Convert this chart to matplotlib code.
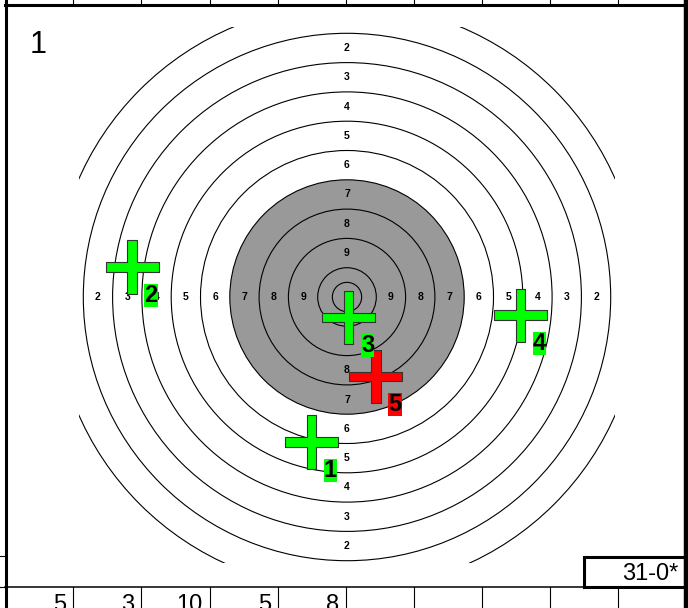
"""Scorecard for one five-shot series drawn on a 50 m pistol target."""

from __future__ import annotations

import matplotlib
matplotlib.use("Agg")
import matplotlib.pyplot as plt
from matplotlib.patches import Circle, Rectangle
from matplotlib.path import Path

plt.rcParams["font.family"] = ["Liberation Sans", "DejaVu Sans"]
NARROW = ["Liberation Sans Narrow", "Liberation Sans", "DejaVu Sans"]

# --- target geometry (mm) ---
RING_SCORES = [1, 2, 3, 4, 5, 6, 7, 8, 9, 10]
RING_RADII_MM = [250, 225, 200, 175, 150, 125, 100, 75, 50, 25]
INNER_TEN_MM = 12.5
BLACK_RADIUS_MM = 100
LABELLED_RINGS = [2, 3, 4, 5, 6, 7, 8, 9]

# --- the series ---
SERIES_NAME = "1"
SHOT_NUMBERS = [1, 2, 3, 4, 5]
SHOT_X_MM = [-30.3, -183.4, 1.3, 148.0, 24.7]
SHOT_Y_MM = [-123.7, 25.6, -17.5, -15.4, -67.8]
SHOT_SCORES = [5, 3, 10, 5, 8]
SHOT_COLORS = ["#00ff00", "#00ff00", "#00ff00", "#00ff00", "#ff0000"]
INNER_TENS = 0

# --- page layout (pixels) ---
W, H = 688, 608
CENTER_PX = (347, 297)
PX_PER_MM = 1.172
CLIP_X_MM = (-229, 229)
CLIP_Y_MM = (-227, 230)
COL_EDGES_PX = [5, 72.5, 141, 209.5, 277.5, 345.5, 413.5, 481.5, 549.5, 618, 685]

TARGET_GREY = "#999999"
OUTLINE = "#333333"


def plus_marker(half_width=0.175):
    w = half_width
    verts = [(-w, 1), (w, 1), (w, w), (1, w), (1, -w), (w, -w), (w, -1),
             (-w, -1), (-w, -w), (-1, -w), (-1, w), (-w, w), (-w, 1)]
    codes = [Path.MOVETO] + [Path.LINETO] * (len(verts) - 2) + [Path.CLOSEPOLY]
    return Path(verts, codes)


def draw_target(ax):
    clip = Rectangle((CLIP_X_MM[0], CLIP_Y_MM[0]), CLIP_X_MM[1] - CLIP_X_MM[0],
                     CLIP_Y_MM[1] - CLIP_Y_MM[0], transform=ax.transData,
                     fill=False, lw=0)
    ax.add_patch(Circle((0, 0), BLACK_RADIUS_MM, fc=TARGET_GREY, ec="none", zorder=1))
    for r in RING_RADII_MM + [INNER_TEN_MM]:
        ring = Circle((0, 0), r, fill=False, ec="black", lw=0.8, zorder=2)
        ax.add_patch(ring)
        ring.set_clip_path(clip)

    # ring numbers on the four axes, midway inside each ring
    for score in LABELLED_RINGS:
        i = RING_SCORES.index(score)
        d = (RING_RADII_MM[i] + RING_RADII_MM[i + 1]) / 2
        for x, y in [(0, d), (0, -d), (-d, 0), (d, 0)]:
            ax.text(x, y, str(score), ha="center", va="center", fontsize=7.5,
                    fontweight="bold", color="black", zorder=3)


def draw_shots(ax):
    ax.scatter(SHOT_X_MM, SHOT_Y_MM, marker=plus_marker(), s=38.2 ** 2,
               c=SHOT_COLORS, edgecolors=OUTLINE, linewidths=0.8, zorder=4)
    for n, x, y, col in zip(SHOT_NUMBERS, SHOT_X_MM, SHOT_Y_MM, SHOT_COLORS):
        ax.annotate(str(n), (x, y), xytext=(13.7, -20.5), textcoords="offset points",
                    ha="center", va="center", fontsize=17, fontweight="bold",
                    family=NARROW,
                    bbox=dict(boxstyle="square,pad=0", fc=col, ec="none"), zorder=5)


def draw_frame(fx):
    thick, thin = 2.2, 0.8
    # outer borders
    fx.plot([5.5, 5.5], [0, H], color="black", lw=thick)
    fx.plot([685.5, 685.5], [0, H], color="black", lw=3.2)
    fx.plot([5, W], [4.5, 4.5], color="black", lw=thick)
    # stubs of the row lines outside the left border
    for y in (555.5, 587):
        fx.plot([0, 5], [y, y], color="black", lw=thin)
    # top row of cells (cut off by the page edge)
    for x in COL_EDGES_PX[1:-1]:
        fx.plot([x, x], [0, 4], color="black", lw=thin)
    # bottom row with the shot values
    fx.plot([5, 584], [587, 587], color="black", lw=1.1)
    for x in COL_EDGES_PX[1:-1]:
        fx.plot([x, x], [587, H], color="black", lw=thin)
    for right, score in zip(COL_EDGES_PX[1:], SHOT_SCORES):
        fx.text(right - 6.5, 594, str(score), ha="right", va="top", fontsize=17)
    # total box
    fx.add_patch(Rectangle((584, 557), 101, 30, fc="white", ec="black", lw=thick))
    fx.text(678, 574, f"{sum(SHOT_SCORES)}-{INNER_TENS}*", ha="right", va="center",
            fontsize=17)
    fx.text(38, 45, SERIES_NAME, ha="center", va="center", fontsize=22)


def main():
    fig = plt.figure(figsize=(W / 100, H / 100), dpi=100)
    fig.patch.set_facecolor("white")

    cx, cy = CENTER_PX
    ax = fig.add_axes([0, 0, 1, 1])
    ax.set_xlim(-cx / PX_PER_MM, (W - cx) / PX_PER_MM)
    ax.set_ylim(-(H - cy) / PX_PER_MM, cy / PX_PER_MM)
    ax.axis("off")
    draw_target(ax)
    draw_shots(ax)

    fx = fig.add_axes([0, 0, 1, 1])
    fx.set_xlim(0, W)
    fx.set_ylim(H, 0)
    fx.axis("off")
    fx.patch.set_alpha(0)
    draw_frame(fx)

    fig.savefig("out.png", dpi=100)
    plt.close(fig)


if __name__ == "__main__":
    main()
